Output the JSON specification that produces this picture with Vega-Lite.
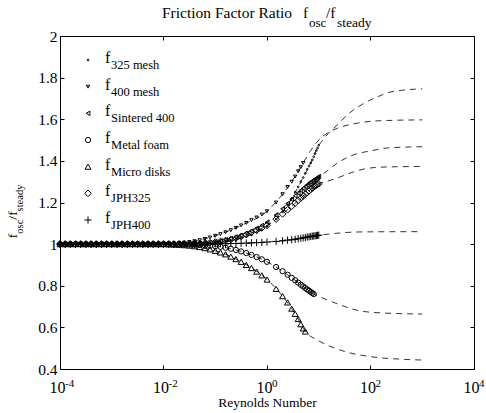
{
  "$schema": "https://vega.github.io/schema/vega-lite/v6.json",
  "width": 414,
  "height": 333,
  "autosize": {"type": "none"},
  "padding": {"left": 60, "top": 36, "right": 12, "bottom": 44},
  "background": "white",
  "config": {
    "font": "Liberation Serif",
    "view": {"stroke": "black", "strokeWidth": 1},
    "axis": {"domain": false, "grid": false, "tickColor": "black", "tickSize": -4, "tickWidth": 1, "labelColor": "black", "labelFont": "Liberation Serif", "titleFont": "Liberation Serif", "titleColor": "black", "titleFontWeight": "normal", "labelFlush": false, "labelOverlap": false}
  },
  "datasets": {
    "markers": [
      {"Re":0.0001,"325 mesh":1,"400 mesh":1,"Sintered 400":1,"Metal foam":1,"Micro disks":1,"JPH325":1,"JPH400":1},
      {"Re":0.000126,"325 mesh":1,"400 mesh":1,"Sintered 400":1,"Metal foam":1,"Micro disks":1,"JPH325":1,"JPH400":1},
      {"Re":0.000158,"325 mesh":1,"400 mesh":1,"Sintered 400":1,"Metal foam":1,"Micro disks":1,"JPH325":1,"JPH400":1},
      {"Re":0.0002,"325 mesh":1,"400 mesh":1,"Sintered 400":1,"Metal foam":1,"Micro disks":1,"JPH325":1,"JPH400":1},
      {"Re":0.000251,"325 mesh":1,"400 mesh":1,"Sintered 400":1,"Metal foam":1,"Micro disks":1,"JPH325":1,"JPH400":1},
      {"Re":0.000316,"325 mesh":1,"400 mesh":1,"Sintered 400":1,"Metal foam":1,"Micro disks":1,"JPH325":1,"JPH400":1},
      {"Re":0.000398,"325 mesh":1,"400 mesh":1,"Sintered 400":1,"Metal foam":1,"Micro disks":1,"JPH325":1,"JPH400":1},
      {"Re":0.000501,"325 mesh":1,"400 mesh":1,"Sintered 400":1,"Metal foam":1,"Micro disks":1,"JPH325":1,"JPH400":1},
      {"Re":0.000631,"325 mesh":1,"400 mesh":1,"Sintered 400":1,"Metal foam":1,"Micro disks":1,"JPH325":1,"JPH400":1},
      {"Re":0.000794,"325 mesh":1,"400 mesh":1,"Sintered 400":1,"Metal foam":1,"Micro disks":1,"JPH325":1,"JPH400":1},
      {"Re":0.001,"325 mesh":1,"400 mesh":1,"Sintered 400":1,"Metal foam":1,"Micro disks":1,"JPH325":1,"JPH400":1},
      {"Re":0.00126,"325 mesh":1,"400 mesh":1,"Sintered 400":1,"Metal foam":1,"Micro disks":1,"JPH325":1,"JPH400":1},
      {"Re":0.00158,"325 mesh":1,"400 mesh":1,"Sintered 400":1,"Metal foam":1,"Micro disks":1,"JPH325":1,"JPH400":1},
      {"Re":0.002,"325 mesh":1,"400 mesh":1,"Sintered 400":1,"Metal foam":1,"Micro disks":1,"JPH325":1,"JPH400":1},
      {"Re":0.00251,"325 mesh":1,"400 mesh":1,"Sintered 400":1,"Metal foam":1,"Micro disks":1,"JPH325":1,"JPH400":1},
      {"Re":0.00316,"325 mesh":1,"400 mesh":1,"Sintered 400":1,"Metal foam":1,"Micro disks":1,"JPH325":1,"JPH400":1},
      {"Re":0.00398,"325 mesh":1,"400 mesh":1,"Sintered 400":1,"Metal foam":1,"Micro disks":1,"JPH325":1,"JPH400":1},
      {"Re":0.00501,"325 mesh":1,"400 mesh":1,"Sintered 400":1,"Metal foam":1,"Micro disks":1,"JPH325":1,"JPH400":1},
      {"Re":0.00631,"325 mesh":1,"400 mesh":1,"Sintered 400":1,"Metal foam":1,"Micro disks":1,"JPH325":1,"JPH400":1},
      {"Re":0.00794,"325 mesh":1,"400 mesh":1,"Sintered 400":1,"Metal foam":1,"Micro disks":1,"JPH325":1,"JPH400":1},
      {"Re":0.01,"325 mesh":1,"400 mesh":1,"Sintered 400":1,"Metal foam":1,"Micro disks":1,"JPH325":1,"JPH400":1},
      {"Re":0.0126,"325 mesh":1,"400 mesh":1.002,"Sintered 400":1,"Metal foam":1,"Micro disks":0.999,"JPH325":1,"JPH400":1},
      {"Re":0.0158,"325 mesh":1,"400 mesh":1.003,"Sintered 400":1,"Metal foam":0.999,"Micro disks":0.998,"JPH325":1,"JPH400":1},
      {"Re":0.02,"325 mesh":1,"400 mesh":1.005,"Sintered 400":1.001,"Metal foam":0.999,"Micro disks":0.997,"JPH325":1.001,"JPH400":1},
      {"Re":0.0251,"325 mesh":1,"400 mesh":1.007,"Sintered 400":1.001,"Metal foam":0.999,"Micro disks":0.995,"JPH325":1.001,"JPH400":1},
      {"Re":0.0316,"325 mesh":1,"400 mesh":1.01,"Sintered 400":1.002,"Metal foam":0.998,"Micro disks":0.993,"JPH325":1.002,"JPH400":1},
      {"Re":0.0398,"325 mesh":1.001,"400 mesh":1.014,"Sintered 400":1.003,"Metal foam":0.997,"Micro disks":0.99,"JPH325":1.002,"JPH400":1},
      {"Re":0.0501,"325 mesh":1.002,"400 mesh":1.019,"Sintered 400":1.004,"Metal foam":0.996,"Micro disks":0.986,"JPH325":1.003,"JPH400":1},
      {"Re":0.0631,"325 mesh":1.003,"400 mesh":1.025,"Sintered 400":1.006,"Metal foam":0.994,"Micro disks":0.981,"JPH325":1.005,"JPH400":1},
      {"Re":0.0794,"325 mesh":1.005,"400 mesh":1.032,"Sintered 400":1.008,"Metal foam":0.992,"Micro disks":0.975,"JPH325":1.007,"JPH400":1.001},
      {"Re":0.1,"325 mesh":1.007,"400 mesh":1.04,"Sintered 400":1.012,"Metal foam":0.99,"Micro disks":0.968,"JPH325":1.01,"JPH400":1.001},
      {"Re":0.126,"325 mesh":1.01,"400 mesh":1.048,"Sintered 400":1.016,"Metal foam":0.987,"Micro disks":0.96,"JPH325":1.013,"JPH400":1.002},
      {"Re":0.158,"325 mesh":1.013,"400 mesh":1.057,"Sintered 400":1.021,"Metal foam":0.983,"Micro disks":0.951,"JPH325":1.017,"JPH400":1.002},
      {"Re":0.2,"325 mesh":1.017,"400 mesh":1.067,"Sintered 400":1.027,"Metal foam":0.978,"Micro disks":0.94,"JPH325":1.022,"JPH400":1.003},
      {"Re":0.251,"325 mesh":1.022,"400 mesh":1.078,"Sintered 400":1.034,"Metal foam":0.972,"Micro disks":0.928,"JPH325":1.029,"JPH400":1.003},
      {"Re":0.316,"325 mesh":1.028,"400 mesh":1.09,"Sintered 400":1.042,"Metal foam":0.965,"Micro disks":0.915,"JPH325":1.037,"JPH400":1.004},
      {"Re":0.398,"325 mesh":1.036,"400 mesh":1.102,"Sintered 400":1.052,"Metal foam":0.957,"Micro disks":0.9,"JPH325":1.046,"JPH400":1.005},
      {"Re":0.501,"325 mesh":1.045,"400 mesh":1.115,"Sintered 400":1.063,"Metal foam":0.948,"Micro disks":0.885,"JPH325":1.056,"JPH400":1.006},
      {"Re":0.631,"325 mesh":1.056,"400 mesh":1.128,"Sintered 400":1.076,"Metal foam":0.938,"Micro disks":0.868,"JPH325":1.067,"JPH400":1.007},
      {"Re":0.794,"325 mesh":1.07,"400 mesh":1.142,"Sintered 400":1.09,"Metal foam":0.927,"Micro disks":0.85,"JPH325":1.078,"JPH400":1.008},
      {"Re":1,"325 mesh":1.085,"400 mesh":1.158,"Sintered 400":1.105,"Metal foam":0.915,"Micro disks":0.83,"JPH325":1.09,"JPH400":1.01},
      {"Re":1.5,"325 mesh":1.12,"400 mesh":1.2,"Sintered 400":1.14,"Metal foam":0.89,"Micro disks":0.785,"JPH325":1.12,"JPH400":1.013},
      {"Re":2,"325 mesh":1.155,"400 mesh":1.24,"Sintered 400":1.17,"Metal foam":0.87,"Micro disks":0.75,"JPH325":1.145,"JPH400":1.016},
      {"Re":2.5,"325 mesh":1.19,"400 mesh":1.275,"Sintered 400":1.195,"Metal foam":0.853,"Micro disks":0.72,"JPH325":1.165,"JPH400":1.019},
      {"Re":3,"325 mesh":1.22,"400 mesh":1.3,"Sintered 400":1.215,"Metal foam":0.838,"Micro disks":0.69,"JPH325":1.182,"JPH400":1.021},
      {"Re":3.5,"325 mesh":1.25,"400 mesh":1.325,"Sintered 400":1.232,"Metal foam":0.826,"Micro disks":0.665,"JPH325":1.197,"JPH400":1.023},
      {"Re":4,"325 mesh":1.275,"400 mesh":1.35,"Sintered 400":1.246,"Metal foam":0.815,"Micro disks":0.64,"JPH325":1.21,"JPH400":1.026},
      {"Re":4.5,"325 mesh":1.3,"400 mesh":1.37,"Sintered 400":1.258,"Metal foam":0.805,"Micro disks":0.615,"JPH325":1.221,"JPH400":1.028},
      {"Re":5,"325 mesh":1.32,"400 mesh":1.39,"Sintered 400":1.268,"Metal foam":0.797,"Micro disks":0.595,"JPH325":1.231,"JPH400":1.03},
      {"Re":5.5,"325 mesh":1.34,"Sintered 400":1.277,"Metal foam":0.789,"Micro disks":0.58,"JPH325":1.24,"JPH400":1.032},
      {"Re":6,"325 mesh":1.36,"Sintered 400":1.285,"Metal foam":0.782,"JPH325":1.248,"JPH400":1.034},
      {"Re":6.5,"325 mesh":1.375,"Sintered 400":1.292,"Metal foam":0.776,"JPH325":1.256,"JPH400":1.035},
      {"Re":7,"325 mesh":1.39,"Sintered 400":1.298,"Metal foam":0.77,"JPH325":1.263,"JPH400":1.037},
      {"Re":7.5,"325 mesh":1.405,"Sintered 400":1.303,"Metal foam":0.765,"JPH325":1.269,"JPH400":1.038},
      {"Re":8,"325 mesh":1.42,"Sintered 400":1.308,"Metal foam":0.76,"JPH325":1.275,"JPH400":1.039},
      {"Re":8.5,"325 mesh":1.435,"Sintered 400":1.312,"JPH325":1.28,"JPH400":1.04},
      {"Re":9,"325 mesh":1.45,"Sintered 400":1.316,"JPH325":1.284,"JPH400":1.041},
      {"Re":9.5,"325 mesh":1.462,"Sintered 400":1.32,"JPH325":1.287,"JPH400":1.042},
      {"Re":10,"325 mesh":1.475,"Sintered 400":1.325,"JPH325":1.29,"JPH400":1.043}
    ],
    "dashes": [
      {"series":"325 mesh","Re":0.0001,"ratio":1},{"series":"325 mesh","Re":0.01,"ratio":1},{"series":"325 mesh","Re":0.1,"ratio":1.007},{"series":"325 mesh","Re":0.316,"ratio":1.028},{"series":"325 mesh","Re":1,"ratio":1.085},{"series":"325 mesh","Re":2,"ratio":1.155},{"series":"325 mesh","Re":3,"ratio":1.22},{"series":"325 mesh","Re":5,"ratio":1.32},{"series":"325 mesh","Re":7,"ratio":1.39},{"series":"325 mesh","Re":10,"ratio":1.475},{"series":"325 mesh","Re":12,"ratio":1.5},{"series":"325 mesh","Re":15,"ratio":1.53},{"series":"325 mesh","Re":23,"ratio":1.573},{"series":"325 mesh","Re":32,"ratio":1.61},{"series":"325 mesh","Re":47,"ratio":1.645},{"series":"325 mesh","Re":70,"ratio":1.672},{"series":"325 mesh","Re":100,"ratio":1.693},{"series":"325 mesh","Re":150,"ratio":1.712},{"series":"325 mesh","Re":213,"ratio":1.727},{"series":"325 mesh","Re":400,"ratio":1.739},{"series":"325 mesh","Re":1000,"ratio":1.746},
      {"series":"400 mesh","Re":0.0001,"ratio":1},{"series":"400 mesh","Re":0.01,"ratio":1},{"series":"400 mesh","Re":0.0316,"ratio":1.01},{"series":"400 mesh","Re":0.1,"ratio":1.04},{"series":"400 mesh","Re":0.316,"ratio":1.09},{"series":"400 mesh","Re":1,"ratio":1.158},{"series":"400 mesh","Re":2,"ratio":1.24},{"series":"400 mesh","Re":3,"ratio":1.3},{"series":"400 mesh","Re":5,"ratio":1.39},{"series":"400 mesh","Re":7,"ratio":1.45},{"series":"400 mesh","Re":10,"ratio":1.5},{"series":"400 mesh","Re":15,"ratio":1.535},{"series":"400 mesh","Re":23,"ratio":1.557},{"series":"400 mesh","Re":47,"ratio":1.578},{"series":"400 mesh","Re":100,"ratio":1.59},{"series":"400 mesh","Re":213,"ratio":1.594},{"series":"400 mesh","Re":1000,"ratio":1.597},
      {"series":"Sintered 400","Re":0.0001,"ratio":1},{"series":"Sintered 400","Re":0.01,"ratio":1},{"series":"Sintered 400","Re":0.1,"ratio":1.012},{"series":"Sintered 400","Re":0.316,"ratio":1.042},{"series":"Sintered 400","Re":1,"ratio":1.105},{"series":"Sintered 400","Re":2,"ratio":1.17},{"series":"Sintered 400","Re":3,"ratio":1.215},{"series":"Sintered 400","Re":5,"ratio":1.268},{"series":"Sintered 400","Re":7,"ratio":1.298},{"series":"Sintered 400","Re":10,"ratio":1.325},{"series":"Sintered 400","Re":12,"ratio":1.337},{"series":"Sintered 400","Re":16,"ratio":1.36},{"series":"Sintered 400","Re":23,"ratio":1.39},{"series":"Sintered 400","Re":33,"ratio":1.412},{"series":"Sintered 400","Re":47,"ratio":1.429},{"series":"Sintered 400","Re":100,"ratio":1.448},{"series":"Sintered 400","Re":213,"ratio":1.462},{"series":"Sintered 400","Re":1000,"ratio":1.468},
      {"series":"JPH325","Re":0.0001,"ratio":1},{"series":"JPH325","Re":0.01,"ratio":1},{"series":"JPH325","Re":0.1,"ratio":1.01},{"series":"JPH325","Re":0.316,"ratio":1.037},{"series":"JPH325","Re":1,"ratio":1.09},{"series":"JPH325","Re":2,"ratio":1.145},{"series":"JPH325","Re":3,"ratio":1.182},{"series":"JPH325","Re":5,"ratio":1.231},{"series":"JPH325","Re":7,"ratio":1.263},{"series":"JPH325","Re":10,"ratio":1.29},{"series":"JPH325","Re":15,"ratio":1.303},{"series":"JPH325","Re":23,"ratio":1.318},{"series":"JPH325","Re":33,"ratio":1.333},{"series":"JPH325","Re":47,"ratio":1.347},{"series":"JPH325","Re":100,"ratio":1.366},{"series":"JPH325","Re":213,"ratio":1.371},{"series":"JPH325","Re":1000,"ratio":1.373},
      {"series":"JPH400","Re":0.0001,"ratio":1},{"series":"JPH400","Re":0.1,"ratio":1.001},{"series":"JPH400","Re":1,"ratio":1.01},{"series":"JPH400","Re":5,"ratio":1.03},{"series":"JPH400","Re":10,"ratio":1.043},{"series":"JPH400","Re":12,"ratio":1.045},{"series":"JPH400","Re":20,"ratio":1.051},{"series":"JPH400","Re":30,"ratio":1.055},{"series":"JPH400","Re":50,"ratio":1.058},{"series":"JPH400","Re":100,"ratio":1.059},{"series":"JPH400","Re":1000,"ratio":1.06},
      {"series":"Metal foam","Re":0.0001,"ratio":1},{"series":"Metal foam","Re":0.01,"ratio":1},{"series":"Metal foam","Re":0.1,"ratio":0.99},{"series":"Metal foam","Re":0.316,"ratio":0.965},{"series":"Metal foam","Re":1,"ratio":0.915},{"series":"Metal foam","Re":2,"ratio":0.87},{"series":"Metal foam","Re":3,"ratio":0.838},{"series":"Metal foam","Re":5,"ratio":0.797},{"series":"Metal foam","Re":8,"ratio":0.76},{"series":"Metal foam","Re":12,"ratio":0.741},{"series":"Metal foam","Re":26,"ratio":0.708},{"series":"Metal foam","Re":63,"ratio":0.679},{"series":"Metal foam","Re":178,"ratio":0.669},{"series":"Metal foam","Re":1000,"ratio":0.664},
      {"series":"Micro disks","Re":0.0001,"ratio":1},{"series":"Micro disks","Re":0.01,"ratio":1},{"series":"Micro disks","Re":0.1,"ratio":0.968},{"series":"Micro disks","Re":0.316,"ratio":0.915},{"series":"Micro disks","Re":1,"ratio":0.83},{"series":"Micro disks","Re":2,"ratio":0.75},{"series":"Micro disks","Re":3,"ratio":0.69},{"series":"Micro disks","Re":4,"ratio":0.64},{"series":"Micro disks","Re":5,"ratio":0.595},{"series":"Micro disks","Re":5.5,"ratio":0.58},{"series":"Micro disks","Re":9.3,"ratio":0.54},{"series":"Micro disks","Re":26,"ratio":0.491},{"series":"Micro disks","Re":110,"ratio":0.458},{"series":"Micro disks","Re":400,"ratio":0.447},{"series":"Micro disks","Re":1000,"ratio":0.443}
    ],
    "legend": [
      {"series":"325 mesh"},{"series":"400 mesh"},{"series":"Sintered 400"},{"series":"Metal foam"},{"series":"Micro disks"},{"series":"JPH325"},{"series":"JPH400"}
    ],
    "xticks": [
      {"Re":0.0001,"exp":"-4"},{"Re":0.01,"exp":"-2"},{"Re":1,"exp":"0"},{"Re":100,"exp":"2"},{"Re":10000,"exp":"4"}
    ]
  },
  "layer": [
    {
      "data": {"name": "dashes"},
      "mark": {"type": "line", "strokeDash": [6, 5], "strokeWidth": 0.8, "color": "black", "interpolate": "monotone", "clip": true},
      "encoding": {
        "x": {"field": "Re", "type": "quantitative", "scale": {"type": "log", "domain": [0.0001, 10000]},
              "axis": {"orient": "bottom", "values": [0.0001, 0.01, 1, 100, 10000], "labelExpr": "'10'", "labelAlign": "right", "labelOffset": 5, "labelBaseline": "alphabetic", "labelPadding": 27, "labelFontSize": 16, "title": "Reynolds Number", "titleFontSize": 13.5, "titleBaseline": "alphabetic", "titleY": 37}},
        "y": {"field": "ratio", "type": "quantitative", "scale": {"domain": [0.4, 2], "nice": false, "zero": false},
              "axis": {"orient": "left", "values": [0.4, 0.6, 0.8, 1, 1.2, 1.4, 1.6, 1.8, 2], "format": "~g", "labelFontSize": 15.5, "labelPadding": 7, "title": null}},
        "detail": {"field": "series", "type": "nominal"}
      }
    },
    {
      "data": {"name": "markers"},
      "transform": [
        {"fold": ["325 mesh", "400 mesh", "Sintered 400", "Metal foam", "Micro disks", "JPH325", "JPH400"], "as": ["series", "ratio"]},
        {"filter": "isValid(datum.ratio)"}
      ],
      "mark": {"type": "point", "filled": false, "strokeWidth": 1, "color": "black", "opacity": 1},
      "encoding": {
        "x": {"field": "Re", "type": "quantitative", "axis": {"orient": "top", "values": [0.0001, 0.01, 1, 100, 10000], "labels": false, "title": null}},
        "y": {"field": "ratio", "type": "quantitative", "scale": {"domain": [0.4, 2], "nice": false, "zero": false},
              "axis": {"orient": "right", "values": [0.4, 0.6, 0.8, 1, 1.2, 1.4, 1.6, 1.8, 2], "labels": false, "title": null}},
        "shape": {"field": "series", "type": "nominal", "legend": null,
                  "scale": {"domain": ["325 mesh", "400 mesh", "Sintered 400", "Metal foam", "Micro disks", "JPH325", "JPH400"],
                            "range": ["circle", "triangle-down", "triangle-left", "circle", "triangle-up", "diamond", "M-1,0H1M0,-1V1"]}},
        "size": {"field": "series", "type": "ordinal", "legend": null,
                 "scale": {"domain": ["325 mesh", "400 mesh", "Sintered 400", "Metal foam", "Micro disks", "JPH325", "JPH400"],
                           "range": [3, 52, 48, 36, 52, 44, 52]}}
      }
    },
    {
      "data": {"name": "legend"},
      "mark": {"type": "point", "filled": false, "strokeWidth": 1, "color": "black", "opacity": 1},
      "encoding": {
        "x": {"datum": 0.000348, "type": "quantitative", "axis": null},
        "y": {"field": "series", "type": "nominal", "axis": null,
              "scale": {"type": "point", "domain": ["325 mesh", "400 mesh", "Sintered 400", "Metal foam", "Micro disks", "JPH325", "JPH400"], "range": [24, 184], "padding": 0}},
        "shape": {"field": "series", "type": "nominal", "legend": null},
        "size": {"field": "series", "type": "ordinal", "legend": null}
      }
    },
    {
      "data": {"name": "legend"},
      "mark": {"type": "text", "text": "f", "align": "left", "baseline": "alphabetic", "dx": 17, "dy": 3, "fontSize": 16, "color": "black"},
      "encoding": {
        "x": {"datum": 0.000348, "type": "quantitative", "axis": null},
        "y": {"field": "series", "type": "nominal", "axis": null,
              "scale": {"type": "point", "domain": ["325 mesh", "400 mesh", "Sintered 400", "Metal foam", "Micro disks", "JPH325", "JPH400"], "range": [24, 184], "padding": 0}}
      }
    },
    {
      "data": {"name": "legend"},
      "mark": {"type": "text", "align": "left", "baseline": "alphabetic", "dx": 23, "dy": 9, "fontSize": 12.5, "color": "black"},
      "encoding": {
        "x": {"datum": 0.000348, "type": "quantitative", "axis": null},
        "y": {"field": "series", "type": "nominal", "axis": null,
              "scale": {"type": "point", "domain": ["325 mesh", "400 mesh", "Sintered 400", "Metal foam", "Micro disks", "JPH325", "JPH400"], "range": [24, 184], "padding": 0}},
        "text": {"field": "series", "type": "nominal"}
      }
    },
    {
      "data": {"name": "xticks"},
      "mark": {"type": "text", "align": "left", "baseline": "alphabetic", "dx": 5, "dy": 18, "fontSize": 11, "color": "black"},
      "encoding": {
        "x": {"field": "Re", "type": "quantitative", "axis": null},
        "y": {"datum": 0.4, "type": "quantitative", "axis": null, "scale": {"domain": [0.4, 2], "nice": false, "zero": false}},
        "text": {"field": "exp", "type": "nominal"}
      }
    },
    {
      "data": {"values": [{}]},
      "mark": {"type": "text", "text": "Friction Factor Ratio", "align": "left", "baseline": "alphabetic", "dx": -105, "dy": -18, "fontSize": 15.5, "color": "black"},
      "encoding": {
        "x": {"datum": 1, "type": "quantitative", "axis": null},
        "y": {"datum": 2, "type": "quantitative", "axis": null, "scale": {"domain": [0.4, 2], "nice": false, "zero": false}}
      }
    },
    {
      "data": {"values": [{}]},
      "mark": {"type": "text", "text": "f", "align": "left", "baseline": "alphabetic", "dx": 36, "dy": -18, "fontSize": 15.5, "color": "black"},
      "encoding": {
        "x": {"datum": 1, "type": "quantitative", "axis": null},
        "y": {"datum": 2, "type": "quantitative", "axis": null, "scale": {"domain": [0.4, 2], "nice": false, "zero": false}}
      }
    },
    {
      "data": {"values": [{}]},
      "mark": {"type": "text", "text": "osc", "align": "left", "baseline": "alphabetic", "dx": 42, "dy": -9.5, "fontSize": 13, "color": "black"},
      "encoding": {
        "x": {"datum": 1, "type": "quantitative", "axis": null},
        "y": {"datum": 2, "type": "quantitative", "axis": null, "scale": {"domain": [0.4, 2], "nice": false, "zero": false}}
      }
    },
    {
      "data": {"values": [{}]},
      "mark": {"type": "text", "text": "/f", "align": "left", "baseline": "alphabetic", "dx": 59, "dy": -18, "fontSize": 15.5, "color": "black"},
      "encoding": {
        "x": {"datum": 1, "type": "quantitative", "axis": null},
        "y": {"datum": 2, "type": "quantitative", "axis": null, "scale": {"domain": [0.4, 2], "nice": false, "zero": false}}
      }
    },
    {
      "data": {"values": [{}]},
      "mark": {"type": "text", "text": "steady", "align": "left", "baseline": "alphabetic", "dx": 70, "dy": -9.5, "fontSize": 13.5, "color": "black"},
      "encoding": {
        "x": {"datum": 1, "type": "quantitative", "axis": null},
        "y": {"datum": 2, "type": "quantitative", "axis": null, "scale": {"domain": [0.4, 2], "nice": false, "zero": false}}
      }
    },
    {
      "data": {"values": [{}]},
      "mark": {"type": "text", "text": "f", "angle": -90, "align": "left", "baseline": "alphabetic", "dx": 6, "dy": -43, "fontSize": 13.5, "color": "black"},
      "encoding": {
        "x": {"datum": 0.0001, "type": "quantitative", "axis": null},
        "y": {"datum": 1, "type": "quantitative", "axis": null, "scale": {"domain": [0.4, 2], "nice": false, "zero": false}}
      }
    },
    {
      "data": {"values": [{}]},
      "mark": {"type": "text", "text": "osc", "angle": -90, "align": "left", "baseline": "alphabetic", "dx": 10.5, "dy": -37, "fontSize": 10.5, "color": "black"},
      "encoding": {
        "x": {"datum": 0.0001, "type": "quantitative", "axis": null},
        "y": {"datum": 1, "type": "quantitative", "axis": null, "scale": {"domain": [0.4, 2], "nice": false, "zero": false}}
      }
    },
    {
      "data": {"values": [{}]},
      "mark": {"type": "text", "text": "/f", "angle": -90, "align": "left", "baseline": "alphabetic", "dx": 24.5, "dy": -43, "fontSize": 13.5, "color": "black"},
      "encoding": {
        "x": {"datum": 0.0001, "type": "quantitative", "axis": null},
        "y": {"datum": 1, "type": "quantitative", "axis": null, "scale": {"domain": [0.4, 2], "nice": false, "zero": false}}
      }
    },
    {
      "data": {"values": [{}]},
      "mark": {"type": "text", "text": "steady", "angle": -90, "align": "left", "baseline": "alphabetic", "dx": 32.7, "dy": -37, "fontSize": 10.5, "color": "black"},
      "encoding": {
        "x": {"datum": 0.0001, "type": "quantitative", "axis": null},
        "y": {"datum": 1, "type": "quantitative", "axis": null, "scale": {"domain": [0.4, 2], "nice": false, "zero": false}}
      }
    }
  ],
  "resolve": {"scale": {"y": "independent"}, "axis": {"x": "independent", "y": "independent"}}
}
